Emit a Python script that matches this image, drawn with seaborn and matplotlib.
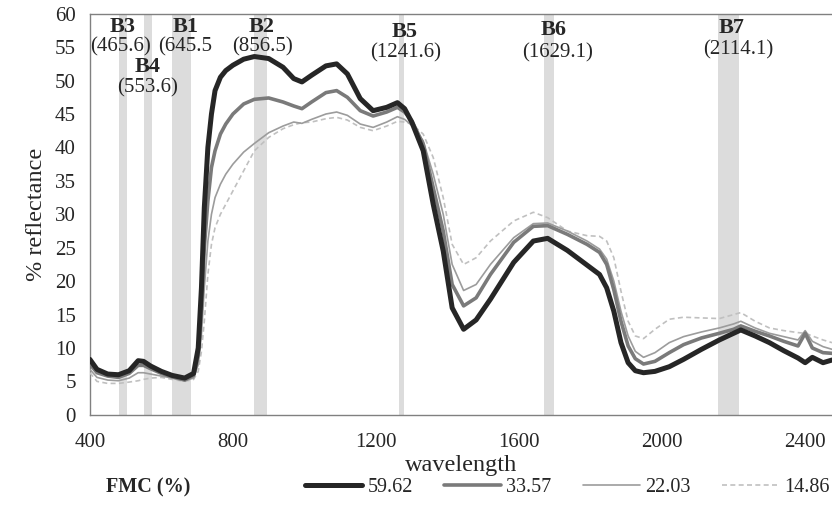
import matplotlib
matplotlib.use("Agg")
import matplotlib.pyplot as plt
from matplotlib.lines import Line2D
import seaborn as sns
import pandas as pd

# wavelength grid (nm) shared by the four spectra
wl = [400, 420, 450, 480, 510, 535, 550, 570, 600, 630, 665, 690, 703, 712, 720,
      730, 740, 750, 765, 780, 800, 830, 860, 900, 940, 970, 993, 1020, 1060, 1090,
      1120, 1156, 1192, 1230, 1260, 1280, 1300, 1332, 1360, 1388, 1413, 1445, 1480,
      1520, 1585, 1640, 1680, 1735, 1790, 1825, 1845, 1865, 1885, 1905, 1925, 1948,
      1980, 2020, 2060, 2110, 2160, 2200, 2220, 2260, 2300, 2340, 2380, 2400, 2420,
      2450, 2475]

# % reflectance per FMC level
r_5962 = [8.3, 6.8, 6.1, 6.0, 6.6, 8.1, 8.0, 7.3, 6.5, 5.9, 5.5, 6.2, 10, 19, 31,
          40, 45, 48.5, 50.5, 51.5, 52.3, 53.2, 53.6, 53.3, 52.0, 50.3, 49.8, 50.8, 52.2, 52.5,
          51.0, 47.3, 45.5, 46.0, 46.7, 45.8, 43.8, 39.5, 31.5, 24.5, 16.0, 12.8, 14.2,
          17.3, 22.8, 26.0, 26.4, 24.6, 22.4, 21.0, 19.0, 15.5, 10.8, 7.8, 6.6, 6.3,
          6.5, 7.2, 8.3, 9.8, 11.2, 12.2, 12.7, 11.8, 10.8, 9.6, 8.5, 7.8, 8.6,
          7.8, 8.2]
r_3357 = [7.6, 6.3, 5.8, 5.6, 6.2, 7.4, 7.4, 6.9, 6.2, 5.7, 5.2, 5.9, 9, 16, 25,
          32, 37, 39.5, 42, 43.5, 45, 46.5, 47.2, 47.4, 46.8, 46.2, 45.8, 46.8, 48.2, 48.5,
          47.5, 45.5, 44.7, 45.3, 46.0, 45.3, 44.0, 40.5, 34, 27.5, 19.5, 16.3, 17.5,
          21.0, 25.8, 28.2, 28.3, 27.0, 25.5, 24.3, 22.5, 18.7, 14.0, 10.3, 8.4, 7.6,
          8.0, 9.3, 10.5, 11.5, 12.2, 12.8, 13.3, 12.5, 11.8, 11.0, 10.3, 12.2, 10.0,
          9.3, 9.2]
r_2203 = [6.8, 5.6, 5.2, 5.1, 5.5, 6.3, 6.3, 6.1, 5.8, 5.5, 5.1, 5.5, 7.5, 12, 19,
          26, 30, 32.5, 34.5, 36, 37.5, 39.3, 40.6, 42.2, 43.2, 43.8, 43.6, 44.2, 45.0, 45.3,
          44.8, 43.5, 43.0, 43.8, 44.6, 44.2, 43.3, 41.0, 36, 30, 22.5, 18.6, 19.5,
          22.5, 26.5, 28.6, 28.7, 27.5, 26.0, 24.8, 23.3, 20.0, 15.5, 11.8, 9.5, 8.6,
          9.3, 10.8, 11.7, 12.4, 13.0, 13.6, 14.0, 13.0, 12.2, 11.7, 11.2, 12.6, 11.0,
          10.2, 9.8]
r_1486 = [6.3, 5.0, 4.7, 4.7, 4.9, 5.1, 5.3, 5.5, 5.6, 5.3, 5.0, 5.3, 6.5, 9.5, 14,
          21, 25.5, 28, 30, 31.5, 33.5, 36.5, 39.5, 41.5, 42.8, 43.4, 43.7, 43.8, 44.3, 44.5,
          44.1, 43.0, 42.5, 43.2, 43.9, 43.8, 43.5, 42.0, 38.5, 32.5, 25.5, 22.5, 23.5,
          26.0, 29.0, 30.3, 29.5, 27.5, 26.8, 26.7, 26.0, 23.5, 18.5, 14.0, 11.8, 11.4,
          12.8, 14.3, 14.6, 14.5, 14.4, 15.0, 15.3, 14.0, 13.0, 12.6, 12.3, 12.2, 11.8,
          11.2, 10.8]

fmc_labels = ["59.62", "33.57", "22.03", "14.86"]

# MODIS bands: name, centre label, shaded span (nm)
band_names = ["B3", "B4", "B1", "B2", "B5", "B6", "B7"]
band_centres = ["(465.6)", "(553.6)", "(645.5", "(856.5)", "(1241.6)", "(1629.1)", "(2114.1)"]
band_lo = [481, 551, 629, 859, 1264, 1670, 2157]
band_hi = [503, 573, 682, 895, 1279, 1698, 2215]

df = pd.DataFrame({"wavelength": wl, "59.62": r_5962, "33.57": r_3357,
                   "22.03": r_2203, "14.86": r_1486})

sns.set_style("white")
plt.rcParams["font.family"] = ["Liberation Serif", "DejaVu Serif"]

fig = plt.figure(figsize=(8.32, 5.09), dpi=100)
ax = fig.add_axes([0.108, 0.185, 0.892, 0.788])

for lo, hi in zip(band_lo, band_hi):
    ax.axvspan(lo, hi, color="#dcdcdc", lw=0, zorder=0)

styles = {
    "59.62": dict(color="#262626", lw=3.6, ls="-"),
    "33.57": dict(color="#7a7a7a", lw=2.6, ls="-"),
    "22.03": dict(color="#9c9c9c", lw=1.2, ls="-"),
    "14.86": dict(color="#c0c0c0", lw=1.2, ls=(0, (3, 2))),
}
for name in fmc_labels[::-1]:
    st = styles[name]
    sns.lineplot(data=df, x="wavelength", y=name, ax=ax, color=st["color"],
                 lw=st["lw"], ls=st["ls"], zorder=3)

# band labels
lab_x = [492, 560, 668, 880, 1279, 1696, 2195]
lab_y = [58.0, 52.0, 58.0, 58.0, 57.3, 57.6, 57.9]
num_x = [486, 560, 666, 884, 1283, 1707, 2214]
num_y = [55.0, 48.9, 55.0, 55.0, 54.1, 54.2, 54.6]
for n, c, x1, y1, x2, y2 in zip(band_names, band_centres, lab_x, lab_y, num_x, num_y):
    ax.text(x1, y1, n, ha="center", va="center", fontsize=16, fontweight="bold", zorder=5)
    ax.text(x2, y2, c, ha="center", va="center", fontsize=15, zorder=5)

ax.set_xlim(400, 2475)
ax.set_ylim(0, 60)
ax.set_xticks([400, 800, 1200, 1600, 2000, 2400])
ax.set_yticks(range(0, 61, 5))
ax.tick_params(axis="both", labelsize=15, length=5, width=0.8, color="#808080",
               direction="out", pad=5)
ax.tick_params(axis="x", pad=8)
for side in ["left", "bottom", "top"]:
    ax.spines[side].set_color("#808080")
    ax.spines[side].set_linewidth(1.0)
ax.spines["right"].set_visible(False)

ax.set_xlabel("wavelength", fontsize=17.5, labelpad=2)
ax.set_ylabel("% reflectance", fontsize=17.5, labelpad=6)

fig.text(148 / 832, 1 - 487 / 509, "FMC (%)", ha="center", va="center",
         fontsize=14.5, fontweight="bold")
handles = [Line2D([], [], **styles[n]) for n in fmc_labels]
fig.legend(handles, fmc_labels, ncol=4, loc="center left", frameon=False,
           bbox_to_anchor=(301 / 832, 1 - 487 / 509), fontsize=14.5,
           handlelength=2.85, handletextpad=0.25, columnspacing=1.55,
           borderaxespad=0, borderpad=0.2)

fig.savefig("out.png", dpi=100)
